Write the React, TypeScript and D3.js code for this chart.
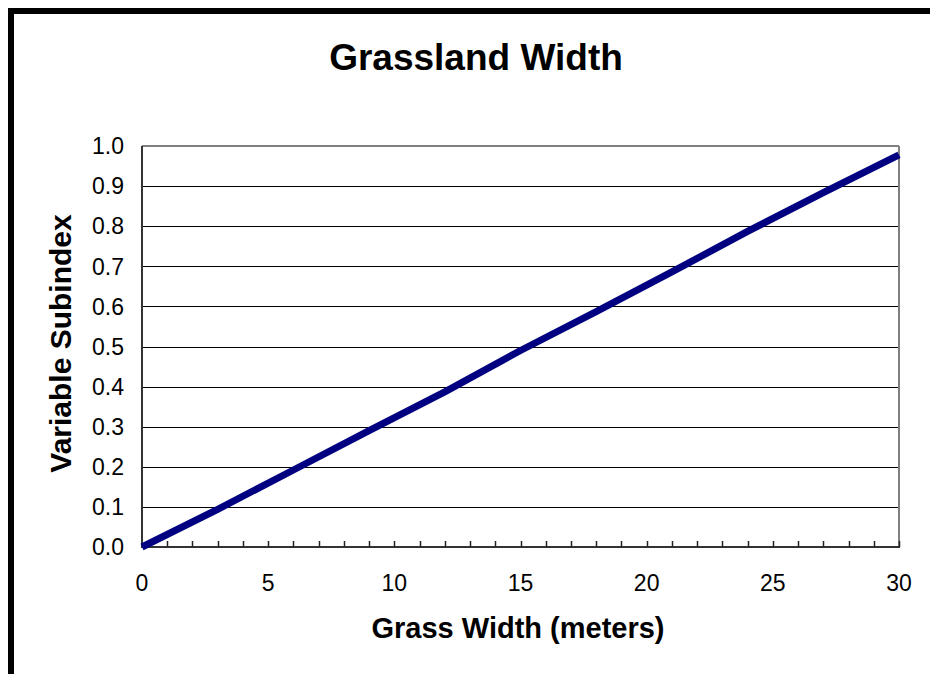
import React from "react";
import * as d3 from "d3";

const title = "Grassland Width";
const xAxisTitle = "Grass Width (meters)";
const yAxisTitle = "Variable Subindex";
const grassWidth = [0, 3, 6, 9, 12, 15, 18, 21, 24, 27, 30];
const subindex = [0, 0.094, 0.192, 0.29, 0.387, 0.49, 0.587, 0.686, 0.787, 0.884, 0.978];
const xTickLabels = [0, 5, 10, 15, 20, 25, 30];
const yTickLabels = [0, 0.1, 0.2, 0.3, 0.4, 0.5, 0.6, 0.7, 0.8, 0.9, 1.0];

const W = 930;
const H = 674;
const plot = { left: 142, right: 899, top: 146, bottom: 547 };
const font = "'Liberation Sans', Arial, sans-serif";

export default function App() {
  const x = d3.scaleLinear().domain([0, 30]).range([plot.left, plot.right]);
  const y = d3.scaleLinear().domain([0, 1]).range([plot.bottom, plot.top]);
  const minorTicks = d3.range(1, 31);
  const data = grassWidth.map((g, i) => [g, subindex[i]] as [number, number]);
  const line = d3
    .line<[number, number]>()
    .x((d) => x(d[0]))
    .y((d) => y(d[1]));

  return (
    <svg
      width={W}
      height={H}
      style={{ position: "absolute", left: 0, top: 0, display: "block", background: "#fff" }}
    >
      <rect x={11} y={11} width={W + 20} height={H + 20} fill="#fff" stroke="#000" strokeWidth={6} />
      <text x={476} y={70} textAnchor="middle" fontFamily={font} fontWeight="bold" fontSize={37}>
        {title}
      </text>
      {/* gridlines */}
      {yTickLabels.slice(1, -1).map((v) => (
        <line
          key={"g" + v}
          x1={plot.left}
          x2={plot.right}
          y1={Math.round(y(v)) + 0.5}
          y2={Math.round(y(v)) + 0.5}
          stroke="#000"
          strokeWidth={1}
        />
      ))}
      {/* plot frame top/right */}
      <line x1={plot.left} x2={plot.right} y1={plot.top} y2={plot.top} stroke="#808080" strokeWidth={2} />
      <line x1={plot.right} x2={plot.right} y1={plot.top} y2={plot.bottom} stroke="#808080" strokeWidth={2} />
      {/* axes */}
      <line x1={plot.left} x2={plot.left} y1={plot.top} y2={plot.bottom + 1} stroke="#333" strokeWidth={2} />
      <line x1={plot.left} x2={plot.right + 1} y1={plot.bottom} y2={plot.bottom} stroke="#333" strokeWidth={2} />
      {minorTicks.map((t) => (
        <line
          key={"t" + t}
          x1={Math.round(x(t)) + 0.5}
          x2={Math.round(x(t)) + 0.5}
          y1={plot.bottom}
          y2={plot.bottom - 6}
          stroke="#222"
          strokeWidth={1.5}
        />
      ))}
      {/* series */}
      <path d={line(data) || ""} fill="none" stroke="#000080" strokeWidth={7} strokeLinecap="butt" strokeLinejoin="round" />
      {/* tick labels */}
      {yTickLabels.map((v) => (
        <text
          key={"yl" + v}
          x={124}
          y={y(v)}
          dy="0.36em"
          textAnchor="end"
          fontFamily={font}
          fontSize={23}
        >
          {v.toFixed(1)}
        </text>
      ))}
      {xTickLabels.map((v) => (
        <text key={"xl" + v} x={x(v)} y={591} textAnchor="middle" fontFamily={font} fontSize={23}>
          {v}
        </text>
      ))}
      <text x={518} y={638} textAnchor="middle" fontFamily={font} fontWeight="bold" fontSize={29}>
        {xAxisTitle}
      </text>
      <text
        transform={`translate(71, ${(plot.top + plot.bottom) / 2 - 3}) rotate(-90)`}
        textAnchor="middle"
        fontFamily={font}
        fontWeight="bold"
        fontSize={30}
      >
        {yAxisTitle}
      </text>
    </svg>
  );
}
